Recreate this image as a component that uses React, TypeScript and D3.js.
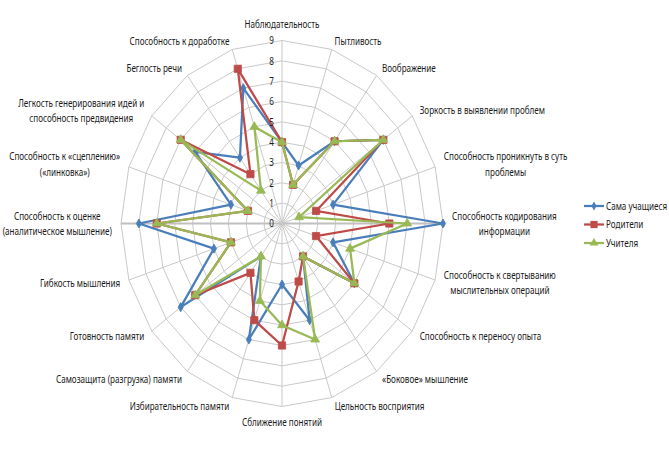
import React, { useEffect, useRef } from 'react';
import * as d3 from 'd3';

// ==== data

const categories = [
  'Наблюдательность',
  'Пытливость',
  'Воображение',
  'Зоркость в выявлении проблем',
  'Способность проникнуть в суть\nпроблемы',
  'Способность кодирования\nинформации',
  'Способность к свертыванию\nмыслительных операций',
  'Способность к переносу опыта',
  '«Боковое» мышление',
  'Цельность восприятия',
  'Сближение понятий',
  'Избирательность памяти',
  'Самозащита (разгрузка) памяти',
  'Готовность памяти',
  'Гибкость мышления',
  'Способность к оценке\n(аналитическое мышление)',
  'Способность к «сцеплению»\n(«линковка»)',
  'Легкость генерирования идей и\nспособность предвидения',
  'Беглость речи',
  'Способность к доработке'
];

const seriesNames = ['Сама учащиеся', 'Родители', 'Учителя'];
const samaValues = [4, 3, 5, 7, 3, 9, 3, 5, 2, 5, 3, 6, 2, 7, 4, 8, 3, 6, 4, 7];
const roditeliValues = [4, 2, 5, 7, 2, 6, 2, 5, 2, 3, 6, 5, 3, 6, 3, 7, 2, 7, 3, 8];
const uchitelyaValues = [4, 2, 5, 7, 1, 7, 4, 5, 2, 6, 5, 4, 2, 6, 3, 7, 2, 7, 2, 5];
const tickValues = [0, 1, 2, 3, 4, 5, 6, 7, 8, 9];

// ==== layout

const W = 669;
const H = 463;
const CX = 282;
const CY = 223.5;
const RY = 183;
const RX = 161;
const FONT = "'Noto Sans', 'DejaVu Sans', sans-serif";
const FONT_SIZE = 10;
const TEXT_SX = 0.81;
const LINE_H = 15.5;
const GRID = '#c9c9c9';

const series = [
  { name: seriesNames[0], values: samaValues, color: '#4a7ebb', symbol: d3.symbolDiamond, size: 24 },
  { name: seriesNames[1], values: roditeliValues, color: '#be4b48', symbol: d3.symbolSquare, size: 52 },
  { name: seriesNames[2], values: uchitelyaValues, color: '#98b954', symbol: d3.symbolTriangle, size: 34 }
];

function App() {
  const ref = useRef<SVGSVGElement | null>(null);

  useEffect(() => {
    const svg = d3.select(ref.current);
    svg.selectAll('*').remove();

    const n = categories.length;
    const angle = d3.scaleLinear().domain([0, n]).range([0, 2 * Math.PI]);
    const rx = d3.scaleLinear().domain([0, 9]).range([0, RX]);
    const ry = d3.scaleLinear().domain([0, 9]).range([0, RY]);

    const pt = (i: number, v: number): [number, number] => {
      const a = angle(i);
      return [CX + rx(v) * Math.sin(a), CY - ry(v) * Math.cos(a)];
    };

    svg.append('rect').attr('width', W).attr('height', H).attr('fill', '#fff');

    // grid rings
    const grid = svg.append('g').attr('fill', 'none').attr('stroke', GRID).attr('stroke-width', 1);
    tickValues.slice(1).forEach((t) => {
      grid.append('path')
        .attr('d', d3.line()(d3.range(n).map((i) => pt(i, t))) + 'Z');
    });

    // spokes
    d3.range(n).forEach((i) => {
      const [x, y] = pt(i, 9);
      grid.append('line')
        .attr('x1', CX).attr('y1', CY).attr('x2', x).attr('y2', y)
        .attr('stroke-width', i % 10 === 5 ? 2 : 1)
        .attr('stroke', i % 10 === 5 ? '#c0c0c0' : GRID);
    });

    // series
    const line = d3.line<[number, number]>().curve(d3.curveLinearClosed);
    series.forEach((s) => {
      const pts = s.values.map((v, i) => pt(i, v));
      svg.append('path')
        .attr('d', line(pts))
        .attr('fill', 'none')
        .attr('stroke', s.color)
        .attr('stroke-width', 2.25)
        .attr('stroke-linejoin', 'round');
      const sym = d3.symbol().type(s.symbol).size(s.size);
      svg.append('g').selectAll('path')
        .data(pts)
        .enter()
        .append('path')
        .attr('d', sym)
        .attr('transform', (d) => `translate(${d[0]},${d[1]})`)
        .attr('fill', s.color)
        .attr('stroke', s.color)
        .attr('stroke-width', 0.8);
    });

    const texts = svg.append('g')
      .attr('font-family', FONT)
      .attr('font-size', FONT_SIZE)
      .attr('fill', '#1a1a1a');

    const measure = (str: string) => {
      const t = texts.append('text').text(str);
      const w = (t.node() as SVGTextElement).getComputedTextLength();
      t.remove();
      return w * TEXT_SX;
    };

    const putText = (str: string, x: number, y: number, anchor: string) => {
      texts.append('text')
        .attr('transform', `translate(${x},${y}) scale(${TEXT_SX},1)`)
        .attr('text-anchor', anchor)
        .attr('dominant-baseline', 'central')
        .text(str);
    };

    // tick labels
    tickValues.forEach((t) => {
      putText(String(t), CX - 8, CY - ry(t), 'end');
    });

    // category labels
    categories.forEach((label, i) => {
      const a = angle(i);
      const s = Math.sin(a);
      const c = Math.cos(a);
      const [vx, vy] = pt(i, 9);
      const lines = label.split('\n');
      const widths = lines.map(measure);
      const boxW = d3.max(widths) as number;
      let left: number;
      let cy: number;
      if (Math.abs(s) < 0.05) {
        left = vx - boxW / 2;
        cy = vy - c * (16 + ((lines.length - 1) * LINE_H) / 2);
      } else {
        left = s > 0 ? vx + 9 * s : vx + 9 * s - boxW;
        cy = vy - 9 * c;
      }
      lines.forEach((ln, k) => {
        putText(ln, left + boxW / 2, cy + (k - (lines.length - 1) / 2) * LINE_H, 'middle');
      });
    });

    // legend
    series.forEach((s, k) => {
      const y = 206 + k * 18.5;
      svg.append('line')
        .attr('x1', 584).attr('x2', 604).attr('y1', y).attr('y2', y)
        .attr('stroke', s.color).attr('stroke-width', 2.25);
      svg.append('path')
        .attr('d', d3.symbol().type(s.symbol).size(s.size)())
        .attr('transform', `translate(594,${y})`)
        .attr('fill', s.color);
      putText(s.name, 606, y, 'start');
    });
  }, []);

  return (
    <svg
      ref={ref}
      width={W}
      height={H}
      style={{ position: 'absolute', left: 0, top: 0 }}
    />
  );
}

export default App;
